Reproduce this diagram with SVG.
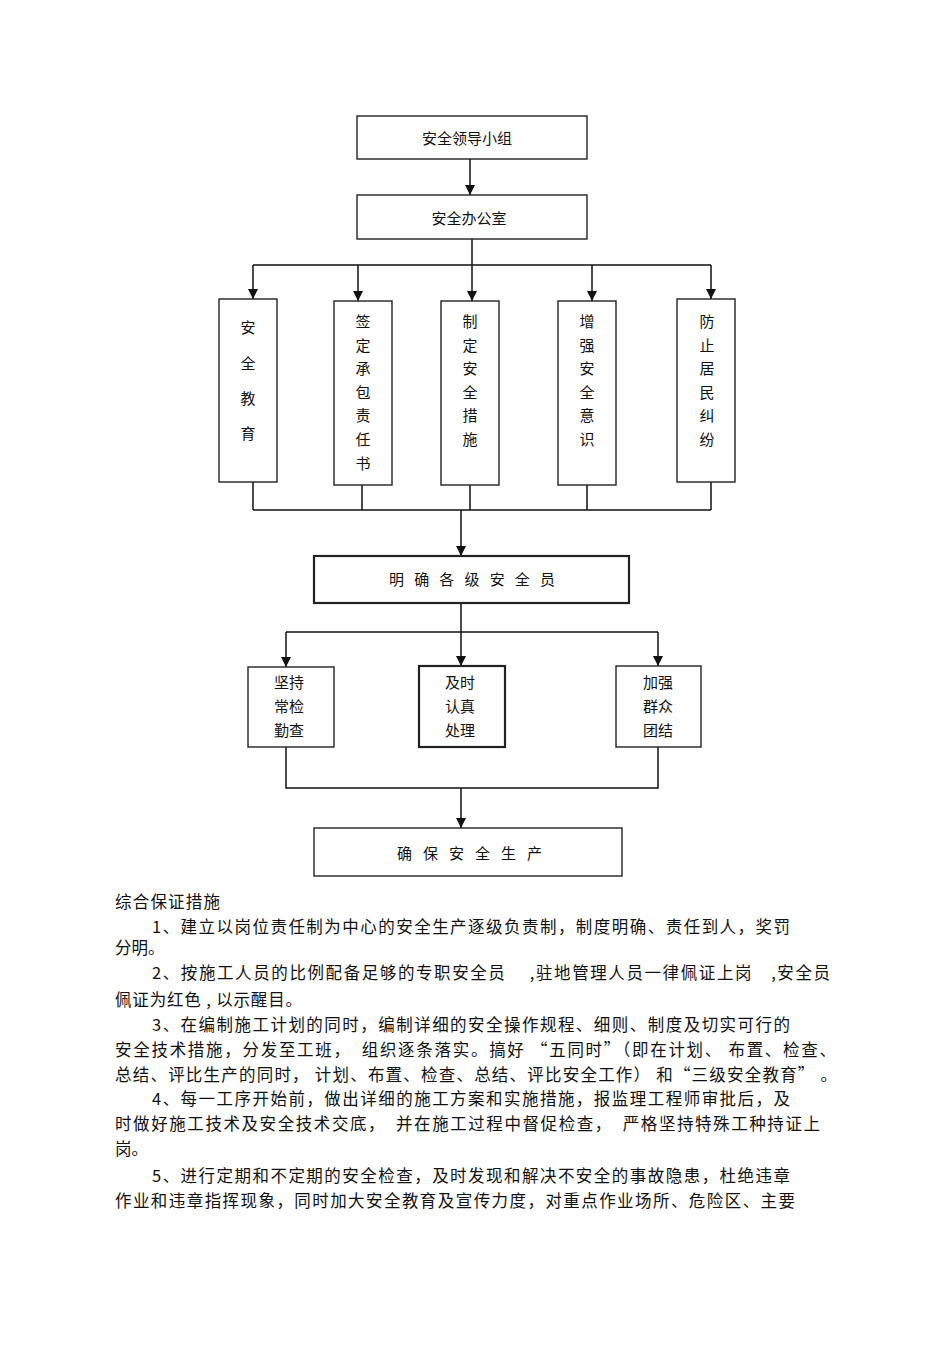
<svg xmlns="http://www.w3.org/2000/svg" width="950" height="1345" viewBox="0 0 950 1345">
<defs>
<style>
.box{fill:#fff;stroke:#222;stroke-width:1.4}
.thick{stroke-width:2.2}
.c{fill:none;stroke:#111;stroke-width:1.5}
.t{font-family:"Noto Sans CJK SC","Liberation Sans",sans-serif;font-size:15px;fill:#111;text-anchor:middle;dominant-baseline:central}
.p{font-family:"Noto Sans CJK SC","Liberation Sans",sans-serif;font-size:16.5px;fill:#111}
</style>
<marker id="arr" viewBox="0 0 10 10" refX="10" refY="5" markerWidth="11" markerHeight="10" markerUnits="userSpaceOnUse" orient="auto">
<path d="M0,0 L10,5 L0,10 z" fill="#111"/>
</marker>
</defs>
<rect width="950" height="1345" fill="#fff"/>

<g id="connectors">
<path class="c" d="M470,159 V195" marker-end="url(#arr)"/>
<path class="c" d="M472,239 V265 M253,265 H711"/>
<path class="c" d="M253,265 V299" marker-end="url(#arr)"/>
<path class="c" d="M358,265 V301" marker-end="url(#arr)"/>
<path class="c" d="M472,265 V301" marker-end="url(#arr)"/>
<path class="c" d="M592,265 V301" marker-end="url(#arr)"/>
<path class="c" d="M711,265 V299" marker-end="url(#arr)"/>
<path class="c" d="M253,482 V510 M362,485 V510 M470,485 V510 M587,485 V510 M711,482 V510 M253,510 H711"/>
<path class="c" d="M461,510 V556" marker-end="url(#arr)"/>
<path class="c" d="M461,603 V632 M286,632 H658"/>
<path class="c" d="M286,632 V667" marker-end="url(#arr)"/>
<path class="c" d="M461,632 V666" marker-end="url(#arr)"/>
<path class="c" d="M658,632 V666" marker-end="url(#arr)"/>
<path class="c" d="M286,747 V788 H658 V747"/>
<path class="c" d="M461,788 V828" marker-end="url(#arr)"/>
</g>

<g id="n1"><rect class="box" x="357" y="116" width="230" height="43"/><text class="t" x="467" y="137">安全领导小组</text></g>
<g id="n2"><rect class="box" x="357" y="195" width="230" height="44"/><text class="t" x="469" y="217">安全办公室</text></g>

<g id="v1"><rect class="box" x="219" y="299" width="58" height="183"/>
<text class="t" x="248" y="326">安</text><text class="t" x="248" y="362">全</text><text class="t" x="248" y="397">教</text><text class="t" x="248" y="432">育</text></g>
<g id="v2"><rect class="box" x="334" y="301" width="58" height="184"/>
<text class="t" x="363" y="320">签</text><text class="t" x="363" y="344">定</text><text class="t" x="363" y="367">承</text><text class="t" x="363" y="391">包</text><text class="t" x="363" y="414">责</text><text class="t" x="363" y="438">任</text><text class="t" x="363" y="462">书</text></g>
<g id="v3"><rect class="box" x="441" y="301" width="58" height="184"/>
<text class="t" x="470" y="320">制</text><text class="t" x="470" y="344">定</text><text class="t" x="470" y="367">安</text><text class="t" x="470" y="391">全</text><text class="t" x="470" y="414">措</text><text class="t" x="470" y="438">施</text></g>
<g id="v4"><rect class="box" x="558" y="301" width="58" height="184"/>
<text class="t" x="587" y="320">增</text><text class="t" x="587" y="344">强</text><text class="t" x="587" y="367">安</text><text class="t" x="587" y="391">全</text><text class="t" x="587" y="414">意</text><text class="t" x="587" y="438">识</text></g>
<g id="v5"><rect class="box" x="677" y="299" width="58" height="183"/>
<text class="t" x="707" y="320">防</text><text class="t" x="707" y="344">止</text><text class="t" x="707" y="367">居</text><text class="t" x="707" y="391">民</text><text class="t" x="707" y="414">纠</text><text class="t" x="707" y="438">纷</text></g>

<g id="m"><rect class="box thick" x="314" y="556" width="315" height="47"/>
<text class="t" x="389" y="578" style="text-anchor:start" textLength="166">明确各级安全员</text></g>

<g id="s1"><rect class="box" x="248" y="667" width="86" height="80"/>
<text class="t" x="289" y="681">坚持</text><text class="t" x="289" y="705">常检</text><text class="t" x="289" y="729">勤查</text></g>
<g id="s2"><rect class="box thick" x="419" y="666" width="86" height="81"/>
<text class="t" x="460" y="681">及时</text><text class="t" x="460" y="705">认真</text><text class="t" x="460" y="729">处理</text></g>
<g id="s3"><rect class="box" x="616" y="666" width="85" height="81"/>
<text class="t" x="658" y="681">加强</text><text class="t" x="658" y="705">群众</text><text class="t" x="658" y="729">团结</text></g>

<g id="b"><rect class="box" x="314" y="828" width="308" height="48"/>
<text class="t" x="397" y="852" style="text-anchor:start" textLength="145">确保安全生产</text></g>

<g id="body">
<text class="p" x="115" y="908" textLength="105">综合保证措施</text>
<text class="p" x="152" y="933" textLength="638">1、建立以岗位责任制为中心的安全生产逐级负责制，制度明确、责任到人，奖罚</text>
<text class="p" x="115" y="954">分明。</text>
<text class="p" x="152" y="979" textLength="678">2、按施工人员的比例配备足够的专职安全员　 ,驻地管理人员一律佩证上岗　,安全员</text>
<text class="p" x="115" y="1006" textLength="187">佩证为红色 , 以示醒目。</text>
<text class="p" x="152" y="1031" textLength="638">3、在编制施工计划的同时，编制详细的安全操作规程、细则、制度及切实可行的</text>
<text class="p" x="115" y="1056" textLength="721">安全技术措施，分发至工班，　组织逐条落实。搞好 “五同时”（即在计划、 布置、检查、</text>
<text class="p" x="115" y="1081" textLength="722">总结、评比生产的同时， 计划、布置、检查、总结、评比安全工作） 和“三级安全教育” 。</text>
<text class="p" x="152" y="1105" textLength="638">4、每一工序开始前，做出详细的施工方案和实施措施，报监理工程师审批后，及</text>
<text class="p" x="115" y="1130" textLength="705">时做好施工技术及安全技术交底，　并在施工过程中督促检查，　严格坚持特殊工种持证上</text>
<text class="p" x="115" y="1155">岗。</text>
<text class="p" x="152" y="1182" textLength="638">5、进行定期和不定期的安全检查，及时发现和解决不安全的事故隐患，杜绝违章</text>
<text class="p" x="115" y="1207" textLength="680">作业和违章指挥现象，同时加大安全教育及宣传力度，对重点作业场所、危险区、主要</text>
</g>
</svg>
